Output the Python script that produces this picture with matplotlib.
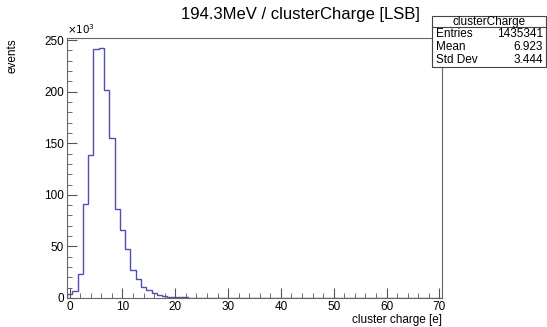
import numpy as np
import matplotlib
matplotlib.use("Agg")
import matplotlib.pyplot as plt
from matplotlib.ticker import MultipleLocator

plt.rcParams['font.family'] = ['Liberation Sans', 'DejaVu Sans']

# bin edges -0.5 .. 70.5, one bin per integer charge
edges = np.arange(-0.5, 71.0, 1.0)
# counts in units of 1e3
counts_k = [4.0, 6.6, 23.0, 91.0, 139.0, 241.0, 242.0, 201.5, 155.5, 86.0,
            65.5, 47.7, 26.7, 18.6, 11.0, 7.3, 4.7, 2.6, 1.8, 1.3,
            0.9, 0.7, 0.5, 0.4, 0.3, 0.25, 0.2, 0.15, 0.1, 0.08,
            0.05]
counts_k = counts_k + [0.0] * (len(edges) - 1 - len(counts_k))

title = "194.3MeV / clusterCharge [LSB]"
stat_name = "clusterCharge"
stat_rows = [("Entries", "1435341"), ("Mean", "6.923"), ("Std Dev", "3.444")]

f = plt.figure(figsize=(5.47, 3.27), dpi=100)
ax = f.add_axes([67/547, 29/327, 375/547, 260/327])

ax.stairs(counts_k, edges, color="#4f4fb3", linewidth=1.0)

ax.set_xlim(-0.5, 70.5)
ax.set_ylim(0, 252)
ax.xaxis.set_major_locator(MultipleLocator(10))
ax.xaxis.set_minor_locator(MultipleLocator(2))
ax.yaxis.set_major_locator(MultipleLocator(50))
ax.yaxis.set_minor_locator(MultipleLocator(10))
ax.tick_params(which="both", direction="in", top=False, right=False,
               labelsize=8.5, color="#555555", pad=2)
ax.tick_params(which="major", length=7)
ax.tick_params(which="minor", length=3.5)
for s in ax.spines.values():
    s.set_color("#666666")
    s.set_linewidth(0.8)

f.text(442/547, 1 - 320/327, "cluster charge [e]", ha="right", va="center", fontsize=8.5)
f.text(12/547, 1 - 38/327, "events", ha="center", va="top", rotation=90, fontsize=8.5)
f.text(67/547, 1 - 36/327, r"$\times10^{3}$", ha="left", va="bottom", fontsize=7.5)
f.text(300/547, 1 - 14/327, title, ha="center", va="center", fontsize=12)

# stats box
bx0, bx1 = 432/547, 546/547
by_top, by_hdr, by_bot = 1 - 16/327, 1 - 27/327, 1 - 67/327
box = plt.Rectangle((bx0, by_bot), bx1 - bx0, by_top - by_bot, transform=f.transFigure,
                    facecolor="white", edgecolor="#444444", linewidth=0.8, zorder=5)
f.patches.append(box)
f.add_artist(plt.Line2D([bx0, bx1], [by_hdr, by_hdr], transform=f.transFigure,
                        color="#444444", linewidth=0.8, zorder=6))
f.text((bx0 + bx1) / 2, (by_top + by_hdr) / 2, stat_name, ha="center", va="center",
       fontsize=8.5, zorder=7)
row_h = (by_hdr - by_bot) / len(stat_rows)
for i, (k, v) in enumerate(stat_rows):
    yy = by_hdr - (i + 0.5) * row_h
    f.text(bx0 + 4/547, yy, k, ha="left", va="center", fontsize=8.5, zorder=7)
    f.text(bx1 - 3/547, yy, v, ha="right", va="center", fontsize=8.5, zorder=7)

f.savefig("out.png", dpi=100)
